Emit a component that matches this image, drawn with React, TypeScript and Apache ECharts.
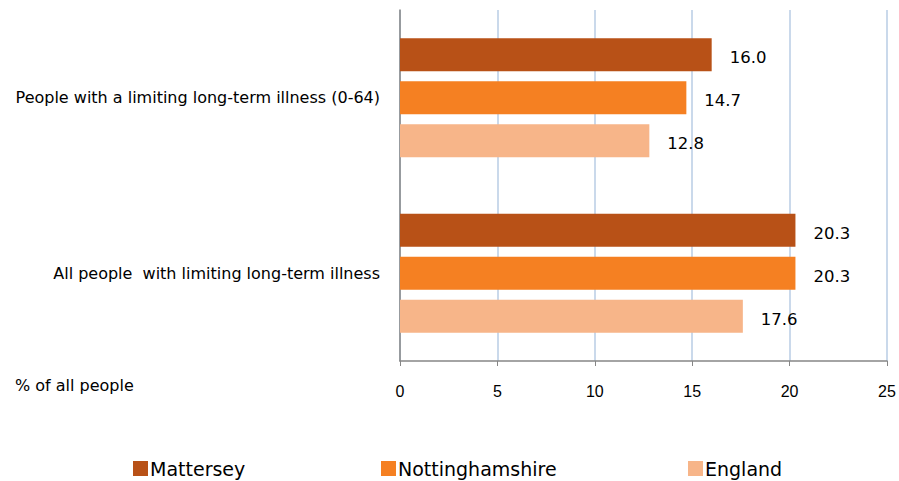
import React, { useEffect, useRef } from "react";
import * as echarts from "echarts";

const categories = [
  "People with a limiting long-term illness (0-64)",
  "All people  with limiting long-term illness",
];
const seriesNames = ["Mattersey", "Nottinghamshire", "England"];
const mattersey = [16.0, 20.3];
const nottinghamshire = [14.7, 20.3];
const england = [12.8, 17.6];
const xTicks = [0, 5, 10, 15, 20, 25];
const colors = ["#B85117", "#F58022", "#F7B589"];
const axisTitle = "% of all people";

const FONT = "DejaVu Sans, Liberation Sans, Arial, sans-serif";
const NARROW = "Liberation Sans, Arial, sans-serif";

export default function App() {
  const ref = useRef<HTMLDivElement>(null);
  useEffect(() => {
    if (!ref.current) return;
    const chart = echarts.init(ref.current, null, { renderer: "svg" });
    const values = [mattersey, nottinghamshire, england];
    const legendLefts = [133, 381, 688];
    chart.setOption({
      animation: false,
      textStyle: { fontFamily: FONT },
      grid: { left: 400, right: 12, top: 10, bottom: 120 },
      xAxis: {
        type: "value",
        min: xTicks[0],
        max: xTicks[xTicks.length - 1],
        interval: 5,
        axisLine: { show: true, lineStyle: { color: "#868686", width: 1.5 } },
        axisTick: { show: true, length: 5, lineStyle: { color: "#868686" } },
        axisLabel: { color: "#000", fontSize: 16, margin: 22, fontFamily: NARROW },
        splitLine: { show: true, lineStyle: { color: "#B9CDE5", width: 1.5 } },
      },
      yAxis: {
        type: "category",
        data: categories,
        inverse: true,
        axisLine: { show: true, lineStyle: { color: "#868686", width: 1.5 } },
        axisTick: { show: false },
        axisLabel: { color: "#000", fontSize: 16, margin: 20, fontFamily: FONT },
      },
      legend: seriesNames.map((n, i) => ({
        data: [n],
        left: legendLefts[i],
        top: 459,
        padding: 0,
        itemWidth: 15,
        itemHeight: 15,
        itemGap: 2,
        icon: "rect",
        textStyle: { fontSize: 19, color: "#000", fontFamily: FONT, padding: [0, 0, 0, -3] },
      })),
      graphic: [
        {
          type: "text",
          left: 15,
          top: 377,
          style: { text: axisTitle, fontSize: 16, fill: "#000", fontFamily: FONT },
        },
      ],
      series: seriesNames.map((n, i) => ({
        name: n,
        type: "bar",
        data: values[i],
        barWidth: 33,
        barGap: "30%",
        itemStyle: { color: colors[i] },
        label: {
          show: true,
          position: "right",
          distance: 18,
          offset: [0, 3],
          color: "#000",
          fontSize: 16.5,
          fontFamily: FONT,
          formatter: (p: any) => Number(p.value).toFixed(1),
        },
      })),
    });
    return () => chart.dispose();
  }, []);
  return (
    <div
      ref={ref}
      style={{ position: "fixed", left: 0, top: 0, width: 899, height: 481, background: "#fff" }}
    />
  );
}
